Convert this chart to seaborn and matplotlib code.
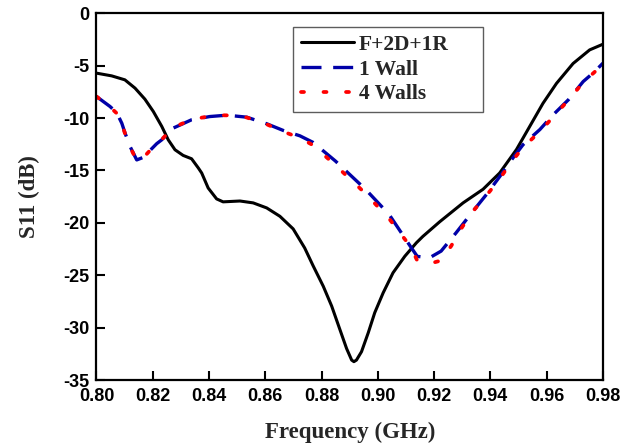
import matplotlib
matplotlib.use("Agg")
import matplotlib.pyplot as plt
import seaborn as sns
import pandas as pd

# S11 of the reference antenna configuration
freq_ref = [0.8000, 0.8054, 0.8101, 0.8137, 0.8172, 0.8202, 0.8232, 0.8255, 0.8279,
            0.8308, 0.8338, 0.8362, 0.8374, 0.8397, 0.8427, 0.8450, 0.8510, 0.8557,
            0.8605, 0.8652, 0.8699, 0.8740, 0.8770, 0.8806, 0.8836, 0.8865, 0.8889,
            0.8907, 0.8915, 0.8924, 0.8942, 0.8966, 0.8989, 0.9019, 0.9054, 0.9096,
            0.9137, 0.9160, 0.9220, 0.9303, 0.9374, 0.9433, 0.9493, 0.9540, 0.9587,
            0.9635, 0.9694, 0.9753, 0.9800]
s11_ref = [-5.72, -5.98, -6.36, -7.15, -8.2, -9.38, -10.8, -12.08, -13.03,
           -13.57, -13.89, -14.77, -15.25, -16.68, -17.72, -18.0, -17.92, -18.1,
           -18.58, -19.38, -20.58, -22.4, -24.1, -26.05, -27.95, -30.17, -32.0,
           -33.1, -33.25, -33.1, -32.3, -30.49, -28.58, -26.68, -24.77, -23.19,
           -21.91, -21.3, -19.9, -18.1, -16.8, -15.25, -13.0, -10.8, -8.6,
           -6.7, -4.8, -3.5, -2.96]

# S11 with one wall
freq_1w = [0.8000, 0.8048, 0.8072, 0.8090, 0.8101, 0.8119, 0.8143, 0.8166, 0.8214,
           0.8232, 0.8273, 0.8338, 0.8403, 0.8445, 0.8474, 0.8534, 0.8605, 0.8664,
           0.8723, 0.8770, 0.8849, 0.8956, 0.9040, 0.9117, 0.9140, 0.9183, 0.9225,
           0.9278, 0.9338, 0.9386, 0.9433, 0.9475, 0.9516, 0.9576, 0.9623, 0.9677,
           0.9730, 0.9771, 0.9800]
s11_1w = [-7.95, -8.9, -9.5, -10.5, -11.4, -12.7, -14.0, -13.76, -12.45,
          -12.08, -10.96, -10.17, -9.86, -9.77, -9.76, -9.92, -10.55, -11.19,
          -11.7, -12.33, -14.1, -16.8, -19.2, -22.3, -23.2, -23.35, -22.7,
          -20.96, -18.9, -17.3, -15.6, -14.0, -12.55, -11.1, -9.7, -8.27,
          -6.52, -5.57, -4.77]

# S11 with four walls
freq_4w = [0.8000, 0.8048, 0.8072, 0.8090, 0.8101, 0.8119, 0.8143, 0.8166, 0.8214,
           0.8232, 0.8273, 0.8338, 0.8403, 0.8445, 0.8474, 0.8534, 0.8605, 0.8664,
           0.8723, 0.8770, 0.8849, 0.8956, 0.9040, 0.9117, 0.9140, 0.9183, 0.9225,
           0.9261, 0.9300, 0.9338, 0.9386, 0.9433, 0.9475, 0.9516, 0.9576, 0.9623,
           0.9677, 0.9730, 0.9771, 0.9800]
s11_4w = [-7.95, -8.95, -9.55, -10.55, -11.45, -12.75, -14.05, -13.8, -12.4,
          -12.05, -10.9, -10.15, -9.82, -9.74, -9.75, -9.95, -10.6, -11.3,
          -11.9, -12.6, -14.5, -17.2, -19.6, -22.3, -23.6, -23.9, -23.6,
          -22.2, -20.4, -18.9, -17.4, -15.8, -14.2, -12.8, -11.3, -9.9,
          -8.3, -6.6, -5.6, -4.77]

labels = ["F+2D+1R", "1 Wall", "4 Walls"]
x_ticks = [0.80, 0.82, 0.84, 0.86, 0.88, 0.90, 0.92, 0.94, 0.96, 0.98]
y_ticks = [-35, -30, -25, -20, -15, -10, -5, 0]

sns.set_theme(style="ticks")
plt.rcParams["axes.unicode_minus"] = False
plt.rcParams["font.family"] = ["Liberation Sans", "DejaVu Sans"]

fig = plt.figure(figsize=(6.39, 4.43), dpi=100)
ax = fig.add_axes([0.151, 0.1422, 0.7925, 0.8280])

df_ref = pd.DataFrame({"f": freq_ref, "s": s11_ref})
df_1w = pd.DataFrame({"f": freq_1w, "s": s11_1w})
df_4w = pd.DataFrame({"f": freq_4w, "s": s11_4w})

sns.lineplot(data=df_ref, x="f", y="s", ax=ax, color="black", linewidth=2.2,
             label=labels[0], legend=False)
sns.lineplot(data=df_1w, x="f", y="s", ax=ax, color="#0000A8", linewidth=2.4,
             label=labels[1], legend=False)
sns.lineplot(data=df_4w, x="f", y="s", ax=ax, color="#FF0000", linewidth=2.7,
             label=labels[2], legend=False)

lines = ax.get_lines()
for ln in lines:
    ln.set_solid_joinstyle("round")
    ln.set_dash_joinstyle("round")
lines[1].set_dashes((6, 3.5))
lines[2].set_dashes((0.8, 5.2))
lines[2].set_dash_capstyle("round")

ax.set_xlim(0.80, 0.98)
ax.set_ylim(-35, 0)
ax.set_xticks(x_ticks)
ax.set_xticklabels([f"{v:.2f}" for v in x_ticks])
ax.set_yticks(y_ticks)
ax.set_yticklabels([str(v) for v in y_ticks])

for sp in ax.spines.values():
    sp.set_visible(True)
    sp.set_linewidth(1.6)
    sp.set_color("black")

ax.tick_params(axis="both", which="major", direction="in", length=6.5, width=1.5,
               top=False, right=False, labelsize=13, colors="black")
ax.tick_params(axis="x", pad=6)
ax.tick_params(axis="y", pad=5)
for t in ax.get_xticklabels() + ax.get_yticklabels():
    t.set_fontweight("bold")
    t.set_family("Liberation Sans")

label_font = dict(family="Liberation Serif", weight="bold", size=16.5)
ax.set_xlabel("Frequency (GHz)", labelpad=12, **label_font)
ax.set_ylabel("S11 (dB)", labelpad=17, **label_font)

leg = ax.legend(handles=lines, labels=labels, loc="upper left",
                bbox_to_anchor=(0.388, 0.744, 0.375, 0.218), mode="expand",
                borderaxespad=0, fancybox=False, handlelength=2.5,
                handletextpad=0.2, labelspacing=0.22, borderpad=0.35,
                prop=dict(family="Liberation Serif", weight="bold", size=15.5))
leg.get_frame().set_edgecolor("#333333")
leg.get_frame().set_linewidth(1.0)

fig.savefig("out.png", dpi=100)
